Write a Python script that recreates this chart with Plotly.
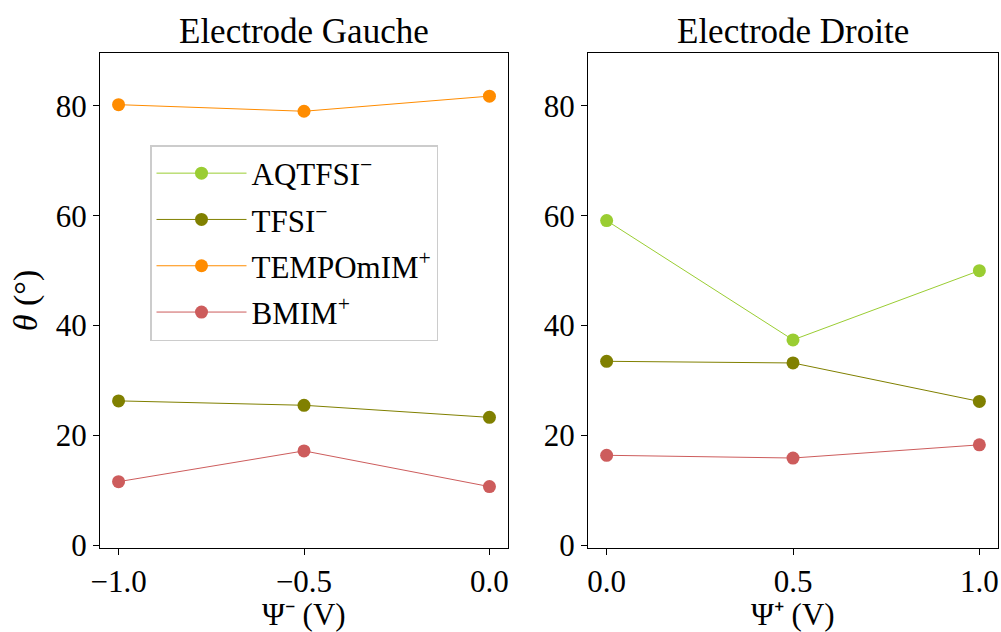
import plotly.graph_objects as go

# Data
species = ["AQTFSI<sup>−</sup>", "TFSI<sup>−</sup>", "TEMPOmIM<sup>+</sup>", "BMIM<sup>+</sup>"]
colors = ["#9acd32", "#808000", "#ff8c00", "#cd5c5c"]
x_left = [-1.0, -0.5, 0.0]
x_right = [0.0, 0.5, 1.0]
left_aqtfsi = None
left_tfsi = [26.3, 25.5, 23.3]
left_tempo = [80.2, 79.0, 81.75]
left_bmim = [11.6, 17.2, 10.7]
right_aqtfsi = [59.1, 37.4, 50.0]
right_tfsi = [33.5, 33.2, 26.2]
right_tempo = None
right_bmim = [16.4, 15.9, 18.3]
left_ticks = [-1.0, -0.5, 0.0]
left_ticktext = ["−1.0", "−0.5", "0.0"]
right_ticks = [0.0, 0.5, 1.0]
right_ticktext = ["0.0", "0.5", "1.0"]
y_ticks = [0, 20, 40, 60, 80]

left_vals = [left_aqtfsi, left_tfsi, left_tempo, left_bmim]
right_vals = [right_aqtfsi, right_tfsi, right_tempo, right_bmim]

FONT = "Liberation Serif"
W, H = 1001, 632
L, R, T = 100, 3, 53
B = H - 548
PW = W - L - R
PH = H - T - B


def py(pix):
    """paper y for a window pixel row"""
    return (H - B - pix) / PH


fig = go.Figure()
for i, (name, col) in enumerate(zip(species, colors)):
    shown = False
    for xv, yv, xa, ya in [(x_left, left_vals[i], "x", "y"), (x_right, right_vals[i], "x2", "y2")]:
        if yv is None:
            continue
        fig.add_trace(go.Scatter(
            x=xv, y=yv, xaxis=xa, yaxis=ya, mode="lines+markers", name=name,
            line=dict(color=col, width=1), marker=dict(color=col, size=13),
            legendgroup=name, showlegend=not shown, legendrank=i + 1,
        ))
        shown = True

axis_common = dict(showline=True, linecolor="black", linewidth=1.2, mirror=True,
                   ticks="outside", ticklen=6, tickwidth=1.2, tickcolor="black",
                   showgrid=False, zeroline=False, automargin=False,
                   tickfont=dict(family=FONT, size=31, color="black"))

title_font = dict(family=FONT, size=35, color="black")
xtitle_font = dict(family=FONT, size=31, color="black")

fig.update_layout(
    width=W, height=H, margin=dict(l=L, r=R, t=T, b=B, autoexpand=False),
    plot_bgcolor="white", paper_bgcolor="white",
    font=dict(family=FONT, color="black"),
    xaxis=dict(domain=[0, 408 / PW], range=[-1.05, 0.05],
               tickvals=left_ticks, ticktext=left_ticktext,
               anchor="y", **axis_common),
    yaxis=dict(domain=[0, 1], range=[-0.47, 89.6], tickvals=y_ticks,
               title=dict(text="<i>θ</i> (°)", font=dict(family=FONT, size=34), standoff=7),
               anchor="x", **axis_common),
    xaxis2=dict(domain=[488 / PW, 1], range=[-0.05, 1.05],
                tickvals=right_ticks, ticktext=right_ticktext,
                anchor="y2", **axis_common),
    yaxis2=dict(domain=[0, 1], range=[-0.47, 89.6], tickvals=y_ticks,
                anchor="x2", **axis_common),
    legend=dict(x=50 / PW, y=py(145), xanchor="left", yanchor="top",
                bgcolor="white", bordercolor="#cccccc", borderwidth=1.5,
                font=dict(family=FONT, size=31, color="black"),
                itemwidth=90, tracegroupgap=3),
    annotations=[
        dict(text="Electrode Gauche", x=204 / PW, y=py(32), xref="paper", yref="paper",
             xanchor="center", yanchor="middle", showarrow=False, font=title_font),
        dict(text="Electrode Droite", x=(793 - 100) / PW, y=py(32), xref="paper", yref="paper",
             xanchor="center", yanchor="middle", showarrow=False, font=title_font),
        dict(text="Ψ⁻ (V)", x=204 / PW, y=py(614), xref="paper", yref="paper",
             xanchor="center", yanchor="middle", showarrow=False, font=xtitle_font),
        dict(text="Ψ⁺ (V)", x=(793 - 100) / PW, y=py(614), xref="paper", yref="paper",
             xanchor="center", yanchor="middle", showarrow=False, font=xtitle_font),
    ],
)

fig.write_html("out.html", config={"displayModeBar": False},
               post_script="document.body.style.margin='0px';document.body.style.overflow='hidden';")
